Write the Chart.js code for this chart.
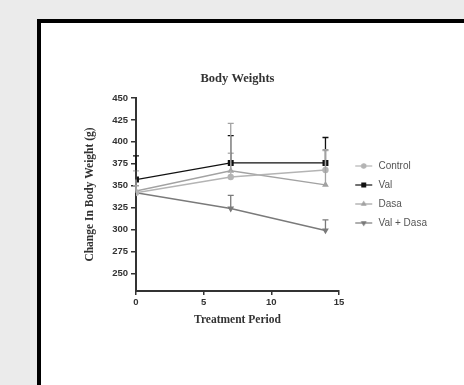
<!DOCTYPE html>
<html>
<head>
<meta charset="utf-8">
<script src="https://cdn.jsdelivr.net/npm/chart.js@4"></script>
<style>
    body { margin: 0; background: #ebebeb; overflow: hidden; }
    .frame {
        position: absolute; left: 37px; top: 19px; width: 500px; height: 400px;
        border-left: 4px solid #000; border-top: 4px solid #000; background: #fff;
    }
    .box { position: absolute; left: 41px; top: 23px; width: 423px; height: 362px; }
</style>
</head>
<body>
<div class="frame"></div>
<div class="box"><canvas id="weightChart"></canvas></div>
<script>
// treatment days
const days = [0, 7, 14];
const yTicks = [250, 275, 300, 325, 350, 375, 400, 425, 450];
const xTicks = [0, 5, 10, 15];

const controlVals = [342, 360, 368];
const controlErr = [25, 27, 22];
const valVals = [357, 376, 376];
const valErr = [27, 31, 29];
const dasaVals = [344, 367, 351];
const dasaErr = [6, 54, 40];
const valDasaVals = [342, 324, 299];
const valDasaErr = [0, 15, 12];

// small line + marker images for the legend
function legendIcon(color, style, rotation) {
    const c = document.createElement('canvas');
    c.width = 25; c.height = 8;
    const g = c.getContext('2d');
    g.strokeStyle = color; g.fillStyle = color; g.lineWidth = 1.2;
    g.beginPath(); g.moveTo(7, 4); g.lineTo(24, 4); g.stroke();
    Chart.helpers.drawPoint(g, { pointStyle: style, radius: style === 'rect' ? 2.6 : 2.2, rotation: rotation || 0, borderWidth: 1 }, 15.5, 4);
    g.fill();
    return c;
}

const errorBars = {
    id: 'errorBars',
    afterDatasetsDraw(chart) {
        const ctx = chart.ctx;
        const y = chart.scales.y;
        chart.data.datasets.forEach((ds, di) => {
            const meta = chart.getDatasetMeta(di);
            ds.errors.forEach((e, i) => {
                if (!e) return;
                const pt = meta.data[i];
                const top = y.getPixelForValue(ds.data[i].y + e);
                ctx.save();
                ctx.strokeStyle = ds.borderColor;
                ctx.lineWidth = 1.3;
                ctx.beginPath();
                ctx.moveTo(pt.x, pt.y);
                ctx.lineTo(pt.x, top);
                ctx.moveTo(pt.x - 3, top);
                ctx.lineTo(pt.x + 3, top);
                ctx.stroke();
                ctx.restore();
            });
        });
    }
};

function series(label, vals, errs, color, style, rotation, radius) {
    return {
        label: label,
        data: days.map((d, i) => ({ x: d, y: vals[i] })),
        errors: errs,
        borderColor: color,
        backgroundColor: color,
        borderWidth: 1.4,
        pointStyle: style,
        rotation: rotation,
        pointRadius: radius,
        icon: legendIcon(color, style, rotation)
    };
}

const serif = "'Liberation Serif', 'Times New Roman', serif";
const sans = "'Liberation Sans', Arial, sans-serif";

new Chart(document.getElementById('weightChart'), {
    type: 'line',
    data: {
        datasets: [
            series('Control', controlVals, controlErr, '#b4b4b4', 'circle', 0, 2.5),
            series('Val', valVals, valErr, '#111111', 'rect', 0, 3.2),
            series('Dasa', dasaVals, dasaErr, '#a2a2a2', 'triangle', 0, 2.5),
            series('Val + Dasa', valDasaVals, valDasaErr, '#7a7a7a', 'triangle', 180, 2.5)
        ]
    },
    options: {
        responsive: true,
        maintainAspectRatio: false,
        animation: false,
        layout: { padding: { left: 0, top: 48, right: 34, bottom: 54 } },
        plugins: {
            title: {
                display: true,
                text: 'Body Weights',
                fullSize: false,
                color: '#333',
                font: { family: serif, size: 12.5, weight: 'bold' },
                padding: { top: 0, bottom: 12 }
            },
            legend: {
                position: 'right',
                fullSize: false,
                maxWidth: 91,
                labels: {
                    usePointStyle: true,
                    pointStyleWidth: 25.5,
                    color: '#555',
                    padding: 9,
                    font: { family: sans, size: 10 },
                    generateLabels(chart) {
                        return chart.data.datasets.map((ds, i) => ({
                            text: ds.label,
                            pointStyle: ds.icon,
                            fillStyle: ds.borderColor,
                            strokeStyle: ds.borderColor,
                            fontColor: '#555',
                            datasetIndex: i
                        }));
                    }
                }
            },
            tooltip: { enabled: false }
        },
        scales: {
            x: {
                type: 'linear',
                min: 0,
                max: 15,
                afterBuildTicks(s) { s.ticks = xTicks.map(v => ({ value: v })); },
                afterFit(s) { s.height = 40; },
                border: { display: true, color: '#333', width: 2 },
                grid: { drawOnChartArea: false, drawTicks: true, tickLength: 4, color: '#333', lineWidth: 1.5 },
                ticks: { color: '#333', padding: 2, font: { family: sans, size: 9.5, weight: 'bold' } },
                title: {
                    display: true, text: 'Treatment Period', color: '#333',
                    font: { family: serif, size: 11.5, weight: 'bold' },
                    padding: { top: 0, bottom: 4 }
                }
            },
            y: {
                min: 230,
                max: 450,
                afterBuildTicks(s) { s.ticks = yTicks.map(v => ({ value: v })); },
                afterFit(s) { s.width = 95; },
                border: { display: true, color: '#333', width: 2 },
                grid: { drawOnChartArea: false, drawTicks: true, tickLength: 5, color: '#333', lineWidth: 1.5 },
                ticks: { color: '#333', padding: 3, font: { family: sans, size: 9.5, weight: 'bold' } },
                title: {
                    display: true, text: 'Change In Body Weight (g)', color: '#333',
                    font: { family: serif, size: 11.5, weight: 'bold' },
                    padding: { top: 42, bottom: 0 }
                }
            }
        }
    },
    plugins: [errorBars]
});
</script>
</body>
</html>
